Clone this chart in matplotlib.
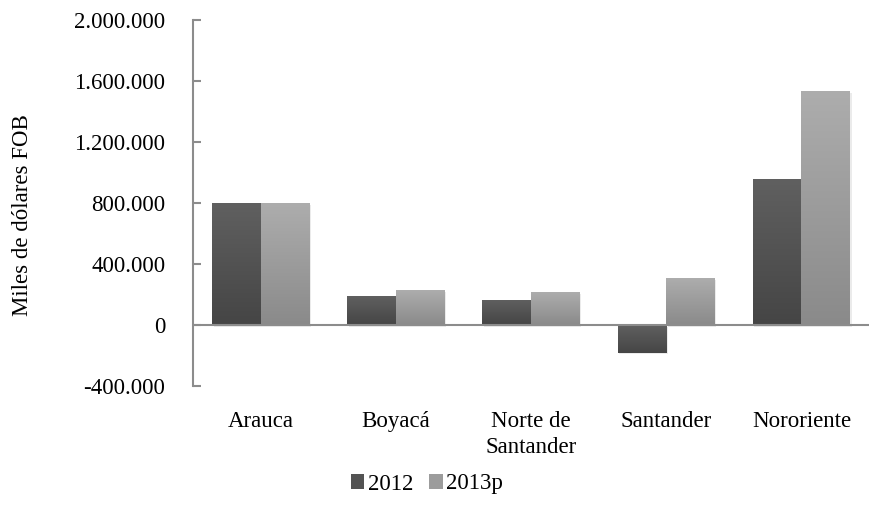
import numpy as np
import matplotlib
matplotlib.use("Agg")
import matplotlib.pyplot as plt
from matplotlib.ticker import FuncFormatter
from matplotlib.patches import Rectangle
from matplotlib.colors import LinearSegmentedColormap

categories = ["Arauca", "Boyacá", "Norte de\nSantander", "Santander", "Nororiente"]
series_names = ["2012", "2013p"]
values_2012 = [800000, 190000, 164000, -181000, 957000]
values_2013p = [798000, 229000, 216000, 308000, 1534000]
y_ticks = [-400000, 0, 400000, 800000, 1200000, 1600000, 2000000]

plt.rcParams['font.family'] = ['Liberation Serif', 'DejaVu Serif']
FS = 16.5

fig = plt.figure(figsize=(8.69, 5.19), dpi=100)
ax = fig.add_axes([193/869, 1-386/519, (869-193)/869, (386-20)/519])

x = np.arange(len(categories))
w = 0.36
grads = {"2012": ("#606060", "#454545"), "2013p": ("#adadad", "#8a8a8a")}

def gradient_bars(bars, c_top, c_bot):
    cmap = LinearSegmentedColormap.from_list("g", [c_bot, c_top])
    for b in bars:
        bx, by = b.get_x(), b.get_y()
        bw, bh = b.get_width(), b.get_height()
        y0, y1 = min(by, by + bh), max(by, by + bh)
        ax.add_patch(Rectangle((bx + 0.012, y0 - 12000), bw, y1 - y0, facecolor="#000000",
                               alpha=0.08, edgecolor="none", zorder=1))
        grad = np.linspace(0, 1, 256).reshape(-1, 1)
        im = ax.imshow(grad, cmap=cmap, aspect="auto", origin="lower",
                       extent=(bx, bx + bw, y0, y1), zorder=2)
        im.set_clip_path(b)
        b.set_facecolor("none")

b1 = ax.bar(x - w/2, values_2012, w, color=grads["2012"][0], edgecolor="none", zorder=2, label=series_names[0])
b2 = ax.bar(x + w/2, values_2013p, w, color=grads["2013p"][0], edgecolor="none", zorder=2, label=series_names[1])
gradient_bars(b1, *grads["2012"])
gradient_bars(b2, *grads["2013p"])

ax.set_xlim(-0.5, len(categories) - 0.5)
ax.set_ylim(-400000, 2000000)
ax.set_yticks(y_ticks)
ax.yaxis.set_major_formatter(FuncFormatter(lambda v, p: f"{int(v):,}".replace(",", ".")))
ax.axhline(0, color="#8c8c8c", lw=1.5, zorder=3)

for s in ["top", "right", "bottom"]:
    ax.spines[s].set_visible(False)
ax.spines["left"].set_color("#8c8c8c")
ax.spines["left"].set_linewidth(1.5)
ax.tick_params(axis="y", direction="in", length=6, width=1.5, color="#8c8c8c",
               labelsize=FS, pad=20)
ax.set_xticks(x)
ax.set_xticklabels(categories, fontsize=FS, linespacing=1.3)
ax.tick_params(axis="x", length=0, pad=18)

fig.text(23/869, 1-215/519, "Miles de dólares FOB", rotation=90, ha="center", va="center", fontsize=FS)

h1 = Rectangle((0, 0), 1, 1, facecolor="#535353")
h2 = Rectangle((0, 0), 1, 1, facecolor="#9c9c9c")
fig.legend([h1, h2], series_names, loc="center", bbox_to_anchor=(427/869, 1-484/519),
           ncol=2, frameon=False, fontsize=FS, handlelength=0.6, handleheight=0.6,
           handletextpad=0.15, columnspacing=0.7)

fig.savefig("out.png", dpi=100)
